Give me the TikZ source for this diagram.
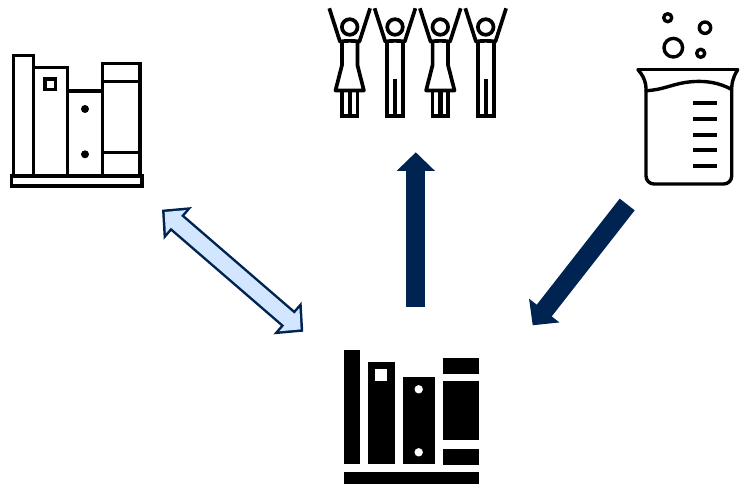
\documentclass[tikz,border=0pt]{standalone}
\usetikzlibrary{arrows.meta}
\definecolor{navy}{HTML}{002452}
\definecolor{paleblue}{HTML}{D2E6FF}
\tikzset{
  x=1pt,y=-1pt,
  icon/.style={draw=black,line width=3.5pt,line join=miter,fill=none},
  person/.style={draw=black,line width=3.7pt,line join=round,fill=none},
  glass/.style={draw=black,line width=3.4pt,line join=round,line cap=round,fill=none},
  tick/.style={draw=black,line width=3.7pt},
  solidbook/.style={fill=black,draw=none},
  bigarrow/.style={draw=navy,line width=19pt,-{Triangle[width=37.4pt,length=18.7pt]}},
  twowayouter/.style={draw=navy,line width=20.4pt,{Triangle[width=41.8pt,length=20.9pt]}-{Triangle[width=41.8pt,length=20.9pt]}},
  twowayinner/.style={draw=paleblue,line width=15.4pt,shorten <=3.5pt,shorten >=3.5pt,{Triangle[width=29.8pt,length=14.9pt]}-{Triangle[width=29.8pt,length=14.9pt]}},
  armsandhead/.pic={
    \draw[person] (-20.4,8.3) -- (-9.7,41.7) .. controls (-5,40.6) and (5,40.6) .. (9.7,41.7) -- (20.4,8.3);
    \draw[person] (0,27) circle[radius=7.8];
  },
  ladyfig/.pic={
    \pic {armsandhead};
    \draw[person] (-7.7,41) -- (-7.7,65) -- (-14.2,90.5) -- (14.2,90.5) -- (7.7,65) -- (7.7,41);
    \draw[person,line join=miter] (-7.7,90.5) -- (-7.7,116) -- (7.7,116) -- (7.7,90.5);
    \draw[draw=black,line width=4.4pt] (0,90.5) -- (0,116);
  },
  manfig/.pic={
    \pic {armsandhead};
    \draw[person,line join=miter] (-8,41) -- (-8,116) -- (8,116) -- (8,41);
    \draw[draw=black,line width=3.7pt] (0,79) -- (0,116);
  }
}
\begin{document}
\begin{tikzpicture}
\useasboundingbox (0,0) rectangle (740,486);
% outline bookshelf
\draw[icon] (11.7,176) rectangle (142,186);
\draw[icon] (13.7,176) -- (13.7,55.7) -- (33.7,55.7) -- (33.7,176);
\draw[icon] (33.7,67.3) -- (67.3,67.3) -- (67.3,176);
\draw[icon] (45,79) rectangle (55.6,89.6);
\draw[icon] (67.3,91) -- (102.7,91);
\draw[icon] (102.7,176) -- (102.7,63.3) -- (140.2,63.3) -- (140.2,176);
\draw[icon] (102.7,81.3) -- (140.2,81.3);
\draw[icon] (102.7,152.7) -- (140.2,152.7);
\fill (85,109) circle[radius=4];
\fill (85,154.3) circle[radius=4];
% people
\pic at (349.7,0) {ladyfig};
\pic at (395,0) {manfig};
\pic at (440.3,0) {ladyfig};
\pic at (485.7,0) {manfig};
% beaker
\draw[glass] (667.7,17.7) circle[radius=4];
\draw[glass] (705,27.7) circle[radius=5.7];
\draw[glass] (673.3,47.7) circle[radius=9.3];
\draw[glass] (700.7,53.3) circle[radius=4];
\draw[glass] (638,69.7) -- (737.7,69.7);
\draw[glass,rounded corners=8pt] (638,69.7) -- (646,80) -- (646,184) -- (731.7,184) -- (731.7,80) -- (737.7,69.7);
\draw[glass] (646,90.7) .. controls (662,90) and (670,85) .. (685,82.5) .. controls (705,79.5) and (720,83) .. (731.7,89.5);
\foreach \yy in {103,119,134.7,150.3,166} \draw[tick] (693.3,\yy) -- (716.7,\yy);
% solid bookshelf
\fill[solidbook] (343.8,349.7) rectangle (359.6,464.3);
\fill[solidbook] (367.5,361.7) rectangle (395.3,464.3);
\fill[white] (375.3,369.3) rectangle (387.3,381.3);
\fill[solidbook] (403.3,377.3) rectangle (434.7,464.3);
\fill[white] (418.7,389.3) circle[radius=4.2];
\fill[white] (418.7,452.3) circle[radius=4.2];
\fill[solidbook] (443,358) rectangle (479,374);
\fill[solidbook] (443,381.3) rectangle (478.5,440.3);
\fill[solidbook] (443,449) rectangle (479,465);
\fill[solidbook] (343.8,472.3) rectangle (478.5,484.3);
% arrows
\coordinate (twoA) at (162,209.7);
\coordinate (twoB) at (303.3,331.7);
\coordinate (upTail) at (415.8,307.3);
\coordinate (upTip) at (415.8,152.3);
\coordinate (diagTail) at (627.2,204.5);
\coordinate (diagTip) at (532.7,325.3);
\draw[twowayouter] (twoA) -- (twoB);
\draw[twowayinner] (twoA) -- (twoB);
\draw[bigarrow] (upTail) -- (upTip);
\draw[bigarrow] (diagTail) -- (diagTip);
\end{tikzpicture}
\end{document}
